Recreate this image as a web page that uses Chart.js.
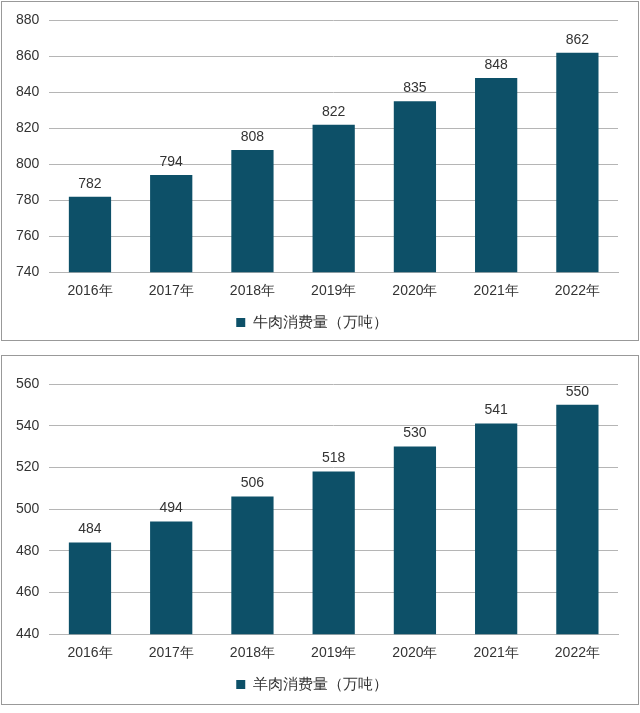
<!DOCTYPE html>
<html><head><meta charset="utf-8">
<script src="https://cdn.jsdelivr.net/npm/chart.js@4.4.3/dist/chart.umd.min.js"></script>
<style>
body{margin:0;background:#fff;font-family:"Liberation Sans",Arial,sans-serif}
.box{position:absolute;left:1px;width:636px;border:1px solid #999;background:#fff}
#b1{top:1px;height:338px}
#b2{top:355px;height:348px}
</style></head><body>
<div class="box" id="b1"><canvas id="c1" width="636" height="338"></canvas></div>
<div class="box" id="b2"><canvas id="c2" width="636" height="348"></canvas></div>
<script>
const years = ["2016年", "2017年", "2018年", "2019年", "2020年", "2021年", "2022年"];
const beefValues = [782, 794, 808, 822, 835, 848, 862];
const muttonValues = [484, 494, 506, 518, 530, 541, 550];
const beefTicks = { min: 740, max: 880, step: 20 };
const muttonTicks = { min: 440, max: 560, step: 20 };

const barColor = "#0d5068";

const valueLabels = {
  id: "valueLabels",
  afterDatasetsDraw(chart) {
    const ctx = chart.ctx;
    const meta = chart.getDatasetMeta(0);
    ctx.save();
    ctx.font = "14px 'Liberation Sans', Arial, sans-serif";
    ctx.fillStyle = "#333";
    ctx.textAlign = "center";
    ctx.textBaseline = "bottom";
    meta.data.forEach((bar, i) => {
      ctx.fillText(chart.data.datasets[0].data[i], bar.x, bar.y - 6);
    });
    ctx.restore();
  },
};

function makeChart(canvas, values, label, ticks, topPad, bottomPad) {
  return new Chart(canvas, {
    type: "bar",
    data: {
      labels: years,
      datasets: [{ label, data: values, backgroundColor: barColor, barPercentage: 0.52, categoryPercentage: 1 }],
    },
    options: {
      responsive: false,
      animation: false,
      layout: { padding: { left: 4, right: 20, top: topPad, bottom: bottomPad } },
      scales: {
        y: {
          min: ticks.min,
          max: ticks.max,
          ticks: { stepSize: ticks.step, color: "#333", font: { size: 14 }, padding: 10 },
          grid: { color: "#b5b5b5", drawTicks: false },
          border: { display: false },
        },
        x: {
          ticks: { color: "#333", font: { size: 14 }, padding: 3 },
          grid: { display: false },
          border: { color: "#b5b5b5" },
        },
      },
      plugins: {
        tooltip: { enabled: false },
        legend: {
          position: "bottom",
          labels: { boxWidth: 9, boxHeight: 9, color: "#333", font: { size: 15 }, padding: 12 },
        },
      },
    },
    plugins: [valueLabels],
  });
}

makeChart(document.getElementById("c1"), beefValues, "牛肉消费量（万吨）", beefTicks, 16, 0);
makeChart(document.getElementById("c2"), muttonValues, "羊肉消费量（万吨）", muttonTicks, 28, 2);
</script>
</body></html>
